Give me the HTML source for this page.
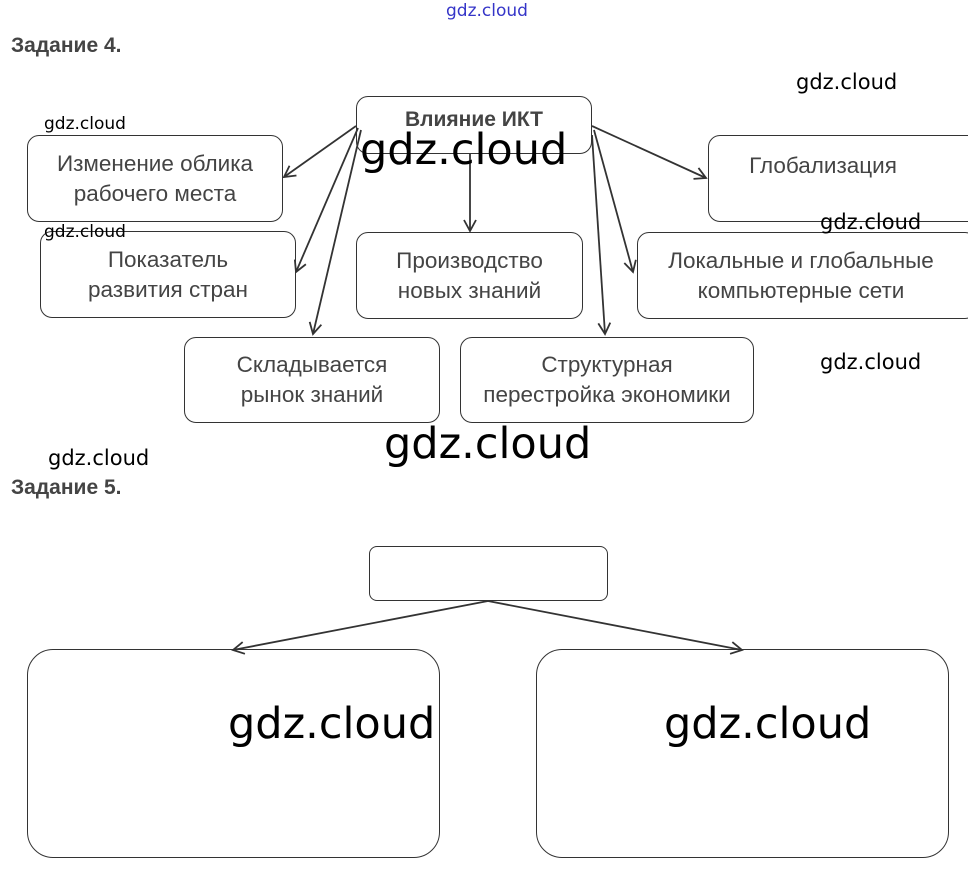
<!DOCTYPE html>
<html><head><meta charset="utf-8"><style>
body{margin:0;background:#fff;width:968px;height:873px;position:relative;overflow:hidden;font-family:"Liberation Sans",sans-serif}
.b{position:absolute;border:1.5px solid #333;border-radius:12px;box-sizing:border-box;background:#fff;display:flex;align-items:center;justify-content:center;text-align:center;color:#444;font-size:22.5px;line-height:30px;white-space:nowrap}
.w{position:absolute;font-family:"DejaVu Sans","Liberation Sans",sans-serif;color:#000;white-space:nowrap}
.h{position:absolute;font-weight:bold;color:#444;font-size:21px}
</style></head><body>
<div class="w" style="left:446px;top:1px;font-size:17px;color:#3535c8">gdz.cloud</div>
<div class="h" style="left:11px;top:34px">Задание 4.</div>
<div class="h" style="left:11px;top:476px">Задание 5.</div>

<div class="b" style="left:27px;top:135px;width:256px;height:87px;padding-top:0px">Изменение облика<br>рабочего места</div>
<div class="b" style="left:40px;top:231px;width:256px;height:87px">Показатель<br>развития стран</div>
<div class="b" style="left:356px;top:232px;width:227px;height:87px">Производство<br>новых знаний</div>
<div class="b" style="left:708px;top:135px;width:280px;height:87px;padding-right:50px;align-items:flex-start;padding-top:15px">Глобализация</div>
<div class="b" style="left:637px;top:232px;width:340px;height:87px;padding-right:12px">Локальные и глобальные<br>компьютерные сети</div>
<div class="b" style="left:184px;top:337px;width:256px;height:86px">Складывается<br>рынок знаний</div>
<div class="b" style="left:460px;top:337px;width:294px;height:86px">Структурная<br>перестройка экономики</div>
<div class="b" style="left:356px;top:96px;width:236px;height:58px;font-weight:bold;font-size:21px;align-items:flex-start;padding-top:8px">Влияние ИКТ</div>

<div class="b" style="left:369px;top:546px;width:239px;height:55px;border-radius:8px"></div>
<div class="b" style="left:27px;top:649px;width:413px;height:209px;border-radius:26px"></div>
<div class="b" style="left:536px;top:649px;width:413px;height:209px;border-radius:26px"></div>

<svg width="968" height="873" style="position:absolute;left:0;top:0" fill="none" stroke="#333" stroke-width="1.8">
<defs><marker id="a" markerWidth="14" markerHeight="14" refX="12" refY="7" orient="auto" markerUnits="userSpaceOnUse"><path d="M1,1 L12,7 L1,13" stroke="#333" stroke-width="1.8" fill="none"/></marker></defs>
<line x1="356" y1="126" x2="284" y2="177" marker-end="url(#a)"/>
<line x1="358" y1="128" x2="296" y2="272" marker-end="url(#a)"/>
<line x1="361" y1="130" x2="313" y2="334" marker-end="url(#a)"/>
<line x1="470" y1="154" x2="470" y2="231" marker-end="url(#a)"/>
<line x1="592" y1="126" x2="706" y2="178" marker-end="url(#a)"/>
<line x1="594" y1="130" x2="633" y2="272" marker-end="url(#a)"/>
<line x1="592" y1="135" x2="605" y2="334" marker-end="url(#a)"/>
<line x1="488" y1="601" x2="233" y2="650" marker-end="url(#a)"/>
<line x1="488" y1="601" x2="742" y2="650" marker-end="url(#a)"/>
</svg>

<div class="w" style="left:796px;top:70px;font-size:21px">gdz.cloud</div>
<div class="w" style="left:44px;top:114px;font-size:17px">gdz.cloud</div>
<div class="w" style="left:44px;top:222px;font-size:17px">gdz.cloud</div>
<div class="w" style="left:360px;top:122px;font-size:43px;line-height:56px">gdz.cloud</div>
<div class="w" style="left:820px;top:210px;font-size:21px">gdz.cloud</div>
<div class="w" style="left:820px;top:350px;font-size:21px">gdz.cloud</div>
<div class="w" style="left:384px;top:416px;font-size:43px;line-height:56px">gdz.cloud</div>
<div class="w" style="left:48px;top:446px;font-size:21px">gdz.cloud</div>
<div class="w" style="left:228px;top:696px;font-size:43px;line-height:56px">gdz.cloud</div>
<div class="w" style="left:664px;top:696px;font-size:43px;line-height:56px">gdz.cloud</div>
</body></html>
